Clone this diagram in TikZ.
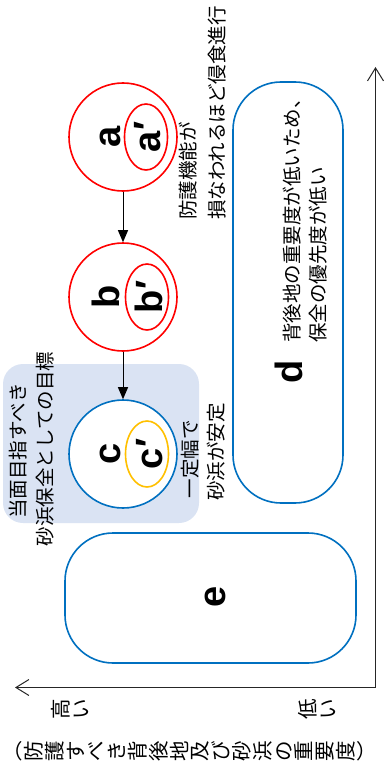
\documentclass[tikz,border=0pt]{standalone}
\usepackage{fontspec}
\newfontfamily\jp{Noto Sans CJK JP}
\newfontfamily\lat{Liberation Sans}
\usetikzlibrary{shapes.geometric,arrows.meta}
\definecolor{myred}{HTML}{FF0000}
\definecolor{myblue}{HTML}{0070C0}
\definecolor{myyellow}{HTML}{FFC000}
\definecolor{myshade}{HTML}{DAE3F3}
\definecolor{axisgray}{HTML}{262626}
\begin{document}
\begin{tikzpicture}[x=1pt,y=-1pt,
  ring/.style={circle,draw,line width=1.6pt,fill=white,minimum size=108pt,inner sep=0pt},
  inring/.style={ellipse,draw,line width=1.6pt,minimum width=43pt,minimum height=66pt,inner sep=0pt},
  pill/.style={draw=myblue,line width=1.6pt,fill=white,inner sep=0pt},
  letter/.style={font=\lat\bfseries\fontsize{38}{38}\selectfont,rotate=90,anchor=base,inner sep=0pt},
  jlbl/.style={font=\jp\fontsize{19.5}{19.5}\selectfont,rotate=90,inner sep=0pt},
  vlbl/.style={font=\jp\fontsize{20.5}{20.8}\selectfont,rotate=90,inner sep=0pt,align=center},
  flow/.style={-{Triangle[length=12pt,width=10pt]},line width=1pt,black},
  axis/.style={{Straight Barb[length=13pt,width=16pt]}-{Straight Barb[length=13pt,width=16pt]},line width=1pt,draw=axisgray}
]
\useasboundingbox (0,0) rectangle (386,776);

% shaded target region
\node[fill=myshade,rounded corners=20pt,minimum width=196pt,minimum height=159pt,inner sep=0pt] (goal) at (101,443.5) {};

% rounded rectangles d and e
\node[pill,rounded corners=48pt,minimum width=110pt,minimum height=421pt] (d) at (288,292.5) {};
\node[pill,rounded corners=48pt,minimum width=291pt,minimum height=130pt] (e) at (210.5,598) {};

% circles
\node[ring,draw=myred] (a) at (123,137) {};
\node[inring,draw=myred] (ai) at (146,137) {};
\node[ring,draw=myred] (b) at (123,297) {};
\node[inring,draw=myred] (bi) at (147,297) {};
\node[ring,draw=myblue] (c) at (123,454) {};
\node[inring,draw=myyellow] (ci) at (147,454) {};

% letters
\node[letter] (la) at (120,137) {a};
\node[letter] (lai) at (160,137) {a′};
\node[letter] (lb) at (119,297) {b};
\node[letter] (lbi) at (162,297) {b′};
\node[letter] (lc) at (120,454) {c};
\node[letter] (lci) at (162,454) {c′};
\node[letter] (ld) at (302,372) {d};
\node[letter] (le) at (225,597) {e};

% flow arrows
\draw[flow] (a) -- (b);
\draw[flow] (b) -- (c);

% labels
\node[jlbl,anchor=west] (t1a) at (188,220) {防護機能が};
\node[jlbl,anchor=west] (t1b) at (217,220) {損なわれるほど侵食進行};
\node[jlbl] (t2a) at (18,451) {当面目指すべき};
\node[jlbl] (t2b) at (45,449) {砂浜保全としての目標};
\node[jlbl] (t3a) at (190,459) {一定幅で};
\node[jlbl] (t3b) at (216,452) {砂浜が安定};
\node[jlbl,anchor=west] (t4a) at (292,343) {背後地の重要度が低いため、};
\node[jlbl,anchor=west] (t4b) at (318,343) {保全の優先度が低い};

% axes
\coordinate (ytop) at (375.5,67);
\coordinate (orig) at (375.5,687.5);
\coordinate (xleft) at (15,687.5);
\draw[axis] (ytop) -- (orig) -- (xleft);

% axis labels (vertical writing, rotated)
\node[vlbl] (hi) at (70,709) {高\\い};
\node[vlbl] (lo) at (317,709) {低\\い};
\node[vlbl] (axt) at (195.5,751) {︵\\防\\護\\す\\べ\\き\\背\\後\\地\\及\\び\\砂\\浜\\の\\重\\要\\度\\︶};
\end{tikzpicture}
\end{document}
